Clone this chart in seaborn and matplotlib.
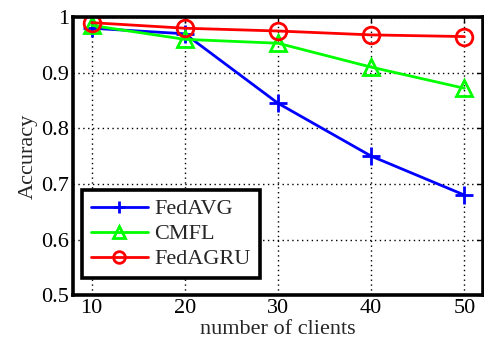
import matplotlib
matplotlib.use("Agg")
import matplotlib.pyplot as plt
import seaborn as sns
import pandas as pd

clients = [10, 20, 30, 40, 50]
fedavg = [0.980, 0.970, 0.845, 0.750, 0.680]
cmfl = [0.985, 0.960, 0.953, 0.910, 0.872]
fedagru = [0.990, 0.980, 0.975, 0.968, 0.965]
series_names = ["FedAVG", "CMFL", "FedAGRU"]
yticks = [0.5, 0.6, 0.7, 0.8, 0.9, 1.0]
yticklabels = ["0.5", "0.6", "0.7", "0.8", "0.9", "1"]

sns.set_style("white")
plt.rcParams["font.family"] = ["Liberation Serif", "DejaVu Serif"]

df = pd.DataFrame({"clients": clients * 3,
                   "acc": fedavg + cmfl + fedagru,
                   "method": sum([[n] * len(clients) for n in series_names], [])})

fig = plt.figure(figsize=(4.84, 3.42), dpi=100)
ax = fig.add_axes([0.151, 0.137, 0.847, 0.813])

colors = {"FedAVG": "#0000ff", "CMFL": "#00ff00", "FedAGRU": "#ff0000"}
markers = {"FedAVG": "+", "CMFL": "^", "FedAGRU": "o"}
for name in series_names:
    sub = df[df.method == name]
    sns.lineplot(data=sub, x="clients", y="acc", ax=ax, color=colors[name],
                 marker=markers[name], markersize=12 if name != "FedAVG" else 13,
                 markerfacecolor="none", markeredgecolor=colors[name],
                 markeredgewidth=2, linewidth=2, label=name)

ax.set_xlim(8, 52)
ax.set_ylim(0.5, 1.0)
ax.set_xticks(clients)
ax.set_yticks(yticks)
ax.set_yticklabels(yticklabels)
ax.grid(True, linestyle=(0, (1, 2.5)), color="black", linewidth=1.0)
ax.tick_params(direction="in", length=4, width=1, labelsize=16, colors="black",
               top=True, right=True, pad=3)
for s in ax.spines.values():
    s.set_linewidth(2.6)
    s.set_color("black")
ax.set_xlabel("number of clients", fontsize=16, labelpad=1)
ax.set_ylabel("Accuracy", fontsize=16, labelpad=2)

leg = ax.legend(loc="lower left", bbox_to_anchor=(0.022, 0.061), fontsize=16,
                frameon=True, fancybox=False, markerscale=0.7,
                borderpad=0.4, labelspacing=0.2, handlelength=2.55,
                handletextpad=0.3, borderaxespad=0.0)
leg.get_frame().set_edgecolor("black")
leg.get_frame().set_linewidth(2.6)
leg.get_frame().set_alpha(1)

fig.savefig("out.png", dpi=100)
